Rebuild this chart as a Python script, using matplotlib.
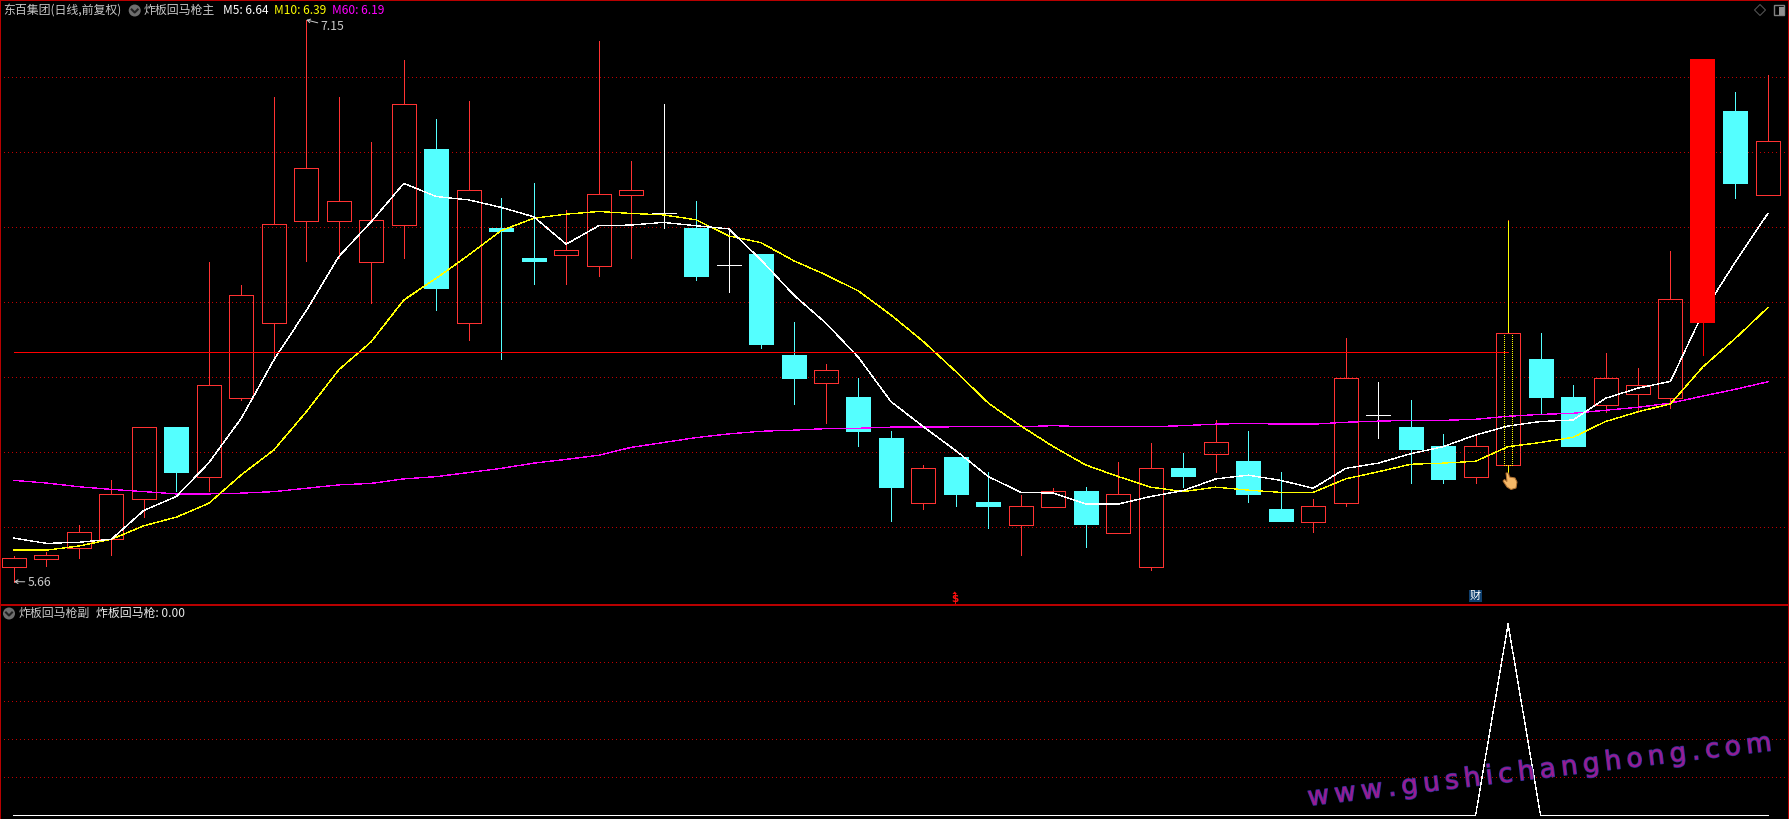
import numpy as np
import matplotlib
matplotlib.use("Agg")
import matplotlib.pyplot as plt
import matplotlib.patheffects as pe
from matplotlib.patches import Rectangle, Ellipse, Polygon, FancyBboxPatch

plt.rcParams['font.family'] = ['Noto Sans CJK SC', 'DejaVu Sans']

# === Data ===

opens = [5.695, 5.716, 5.746, 5.768, 5.876, 6.068, 5.935, 6.146, 6.346, 6.618, 6.618,
         6.508, 6.607, 6.809, 6.346, 6.598, 6.518, 6.527, 6.498, 6.687, 6.637, 6.598,
         6.499, 6.529, 6.260, 6.186, 6.148, 6.038, 5.866, 5.988, 5.868, 5.807, 5.855,
         5.897, 5.786, 5.695, 5.958, 5.996, 5.977, 5.849, 5.815, 5.866, 6.099, 6.068,
         6.017, 5.935, 5.967, 6.249, 6.148, 6.127, 6.156, 6.146, 6.345, 6.910, 6.687]
closes = [5.717, 5.725, 5.787, 5.888, 6.067, 5.948, 6.179, 6.419, 6.608, 6.757, 6.669,
          6.619, 6.928, 6.439, 6.699, 6.590, 6.510, 6.539, 6.688, 6.699, 6.637, 6.470,
          6.499, 6.289, 6.198, 6.219, 6.057, 5.908, 5.957, 5.889, 5.857, 5.856, 5.896,
          5.809, 5.888, 5.957, 5.937, 6.027, 5.890, 5.817, 5.856, 6.197, 6.099, 6.009,
          5.929, 6.016, 6.317, 6.148, 6.017, 6.197, 6.179, 6.409, 7.049, 6.718, 6.829]
highs = [5.724, 5.733, 5.805, 5.926, 6.067, 6.068, 6.508, 6.446, 6.948, 7.153, 6.948,
         6.828, 7.046, 6.889, 6.937, 6.678, 6.718, 6.646, 7.097, 6.777, 6.929, 6.670,
         6.593, 6.529, 6.348, 6.236, 6.198, 6.057, 5.966, 5.988, 5.947, 5.886, 5.905,
         5.908, 5.973, 6.024, 5.997, 6.086, 6.057, 5.948, 5.876, 6.306, 6.188, 6.140,
         6.049, 6.046, 6.620, 6.318, 6.180, 6.265, 6.225, 6.537, 7.049, 6.961, 7.006]
lows = [5.655, 5.698, 5.719, 5.726, 5.828, 5.897, 5.897, 6.140, 6.248, 6.511, 6.519,
        6.399, 6.519, 6.380, 6.300, 6.249, 6.449, 6.449, 6.471, 6.519, 6.599, 6.460,
        6.428, 6.279, 6.130, 6.079, 6.018, 5.818, 5.849, 5.858, 5.799, 5.726, 5.855,
        5.748, 5.786, 5.687, 5.908, 5.948, 5.868, 5.817, 5.788, 5.858, 6.039, 5.919,
        5.919, 5.919, 5.944, 6.102, 6.017, 6.108, 6.108, 6.119, 6.260, 6.678, 6.687]

ma5 = [5.771, 5.757, 5.760, 5.768, 5.845, 5.882, 5.972, 6.091, 6.246, 6.378, 6.522,
       6.615, 6.717, 6.682, 6.673, 6.653, 6.628, 6.555, 6.604, 6.606, 6.613, 6.604,
       6.596, 6.513, 6.420, 6.344, 6.253, 6.135, 6.068, 6.004, 5.935, 5.893, 5.891,
       5.862, 5.862, 5.882, 5.898, 5.929, 5.939, 5.925, 5.904, 5.957, 5.971, 5.996,
       6.015, 6.046, 6.070, 6.082, 6.086, 6.144, 6.171, 6.189, 6.372, 6.508, 6.637]
ma10 = [5.739, 5.739, 5.750, 5.768, 5.804, 5.827, 5.864, 5.940, 6.006, 6.108, 6.220,
        6.295, 6.406, 6.464, 6.526, 6.591, 6.624, 6.635, 6.642, 6.637, 6.633, 6.620,
        6.577, 6.559, 6.511, 6.473, 6.430, 6.366, 6.295, 6.215, 6.131, 6.070, 6.015,
        5.966, 5.935, 5.907, 5.895, 5.907, 5.899, 5.893, 5.893, 5.929, 5.948, 5.968,
        5.971, 5.976, 6.015, 6.026, 6.040, 6.082, 6.108, 6.129, 6.228, 6.304, 6.386]
ma60 = [5.925, 5.918, 5.908, 5.901, 5.895, 5.889, 5.889, 5.891, 5.895, 5.904, 5.913,
        5.917, 5.929, 5.935, 5.946, 5.957, 5.971, 5.981, 5.992, 6.013, 6.026, 6.039,
        6.049, 6.056, 6.059, 6.063, 6.064, 6.067, 6.067, 6.068, 6.068, 6.068, 6.071,
        6.068, 6.068, 6.068, 6.071, 6.075, 6.077, 6.075, 6.075, 6.080, 6.083, 6.085,
        6.085, 6.088, 6.096, 6.101, 6.104, 6.112, 6.120, 6.131, 6.150, 6.168, 6.188]

signal = [0] * 55
signal[46] = 1

limit_up_bar = 52
marked_bar = 46
level_price = 6.267
main_grid = [5.8, 6.0, 6.2, 6.4, 6.6, 6.8, 7.0]
sub_grid = [0.2, 0.4, 0.6, 0.8]

# === Layout ===

W, H = 1789, 819
SPLIT = 604.5
RED_UP = "#FF3232"
CYAN = "#54FFFF"
FRAME = "#B80000"
GRID = "#C00000"
TEXT = "#C8C8C8"
PX = 0.72  # one pixel in points at dpi 100
THIN = 0.22  # aliased sloped lines stay one pixel wide with this

fig = plt.figure(figsize=(W / 100, H / 100), dpi=100, facecolor="black")
ax = fig.add_axes([0, 1 - SPLIT / H, 1, SPLIT / H], facecolor="black")
sub = fig.add_axes([0, 0, 1, 1 - SPLIT / H], facecolor="black")

x = np.arange(len(opens))
xlim = (-14.0 / 32.48, (W - 14.0) / 32.48)
for a in (ax, sub):
    a.set_xlim(xlim)
    a.set_xticks([])
    a.tick_params(left=False, labelleft=False)
    for side in a.spines:
        a.spines[side].set_color(FRAME)
        a.spines[side].set_linewidth(2 * PX)
    a.spines["bottom"].set_visible(False)
    a.set_axisbelow(True)

ax.set_ylim(5.594, 7.2061)
sub.set_ylim(-0.0193, 1.102)
ax.set_yticks(main_grid)
sub.set_yticks(sub_grid)
ax.grid(True, axis="y", color=GRID, linewidth=PX, linestyle=(0, (1, 3)), antialiased=False)
sub.grid(True, axis="y", color=GRID, linewidth=PX, linestyle=(0, (1, 3)), antialiased=False)

# === Candles ===

body_w = 0.74
for i in x:
    o, c, h, l = opens[i], closes[i], highs[i], lows[i]
    top, bottom = max(o, c), min(o, c)
    color = RED_UP if c > o else (CYAN if c < o else "white")
    if i == limit_up_bar:
        continue
    if i == marked_bar:
        ax.vlines(i, top, h, color="#FF5000", linewidth=PX, antialiased=False, zorder=2)
        ax.vlines(i, l, bottom, color="#FF5000", linewidth=PX, antialiased=False, zorder=2)
        ax.plot([i, i], [top, h], color="yellow", lw=PX, ls=(0, (1, 1)), antialiased=False, zorder=2)
        ax.plot([i, i], [l, bottom], color="yellow", lw=PX, ls=(0, (1, 1)), antialiased=False, zorder=2)
    else:
        ax.vlines(i, top, h, color=color, linewidth=PX, antialiased=False, zorder=2)
        ax.vlines(i, l, bottom, color=color, linewidth=PX, antialiased=False, zorder=2)
    if c > o:
        ax.add_patch(Rectangle((i - body_w / 2, bottom), body_w, top - bottom, facecolor="none",
                               edgecolor=RED_UP, linewidth=PX, antialiased=False, zorder=2))
    elif c < o:
        ax.add_patch(Rectangle((i - body_w / 2, bottom), body_w, top - bottom, facecolor=CYAN,
                               edgecolor=CYAN, linewidth=PX, antialiased=False, zorder=2))
    else:
        ax.hlines(o, i - body_w / 2, i + body_w / 2, color="white", linewidth=PX, antialiased=False, zorder=2)

# dotted yellow inner frame of the marked candle
inner = 0.127
m_top, m_bottom = closes[marked_bar], opens[marked_bar]
for dx in (-inner, inner):
    ax.plot([marked_bar + dx] * 2, [m_bottom, m_top], color="yellow", lw=PX, ls=(0, (1, 2)),
            antialiased=False, zorder=4)
ax.plot([marked_bar - inner, marked_bar + inner], [m_bottom, m_bottom], color="yellow", lw=PX,
        ls=(0, (1, 2)), antialiased=False, zorder=4)

# === Lines ===

ax.plot(x, ma60, color="#FF00FF", linewidth=THIN, antialiased=False, zorder=3)
ax.plot(x, ma10, color="#FFFF00", linewidth=THIN, antialiased=False, zorder=3)
ax.plot(x, ma5, color="white", linewidth=THIN, antialiased=False, zorder=3)
ax.hlines(level_price, 0, marked_bar, color="#FF0000", linewidth=PX, antialiased=False, zorder=3)

# the limit-up bar sits over the averages and the grid
lb = limit_up_bar
ax.vlines(lb, lows[lb], opens[lb], color="#FF0000", linewidth=PX, antialiased=False, zorder=5)
ax.add_patch(Rectangle((lb - 0.385, opens[lb]), 0.77, closes[lb] - opens[lb], facecolor="#FF0000",
                       edgecolor="none", antialiased=False, zorder=5))

sub.plot(x, signal, color="white", linewidth=THIN, antialiased=False, zorder=3)

# === High / low marks ===

hi = int(np.argmax(highs))
lo = int(np.argmin(lows))
arrow = dict(arrowstyle="->,head_length=0.25,head_width=0.15", color=TEXT, lw=PX, shrinkA=0, shrinkB=0)
ax.annotate(f"{highs[hi]:.2f}", xy=(hi, highs[hi]), xytext=(320.5 / W, 1 - 26.5 / H),
            textcoords="figure fraction", color=TEXT, fontsize=8.8, va="center", ha="left", zorder=6,
            arrowprops=arrow)
ax.annotate(f"{lows[lo]:.2f}", xy=(lo, lows[lo]), xytext=(27.5 / W, 1 - 582 / H),
            textcoords="figure fraction", color=TEXT, fontsize=8.8, va="center", ha="left", zorder=6,
            arrowprops=arrow)

# === Header texts, pixel positions ===

def put(px, py, s, color=TEXT, size=8.6, **kw):
    return fig.text(px / W, 1 - py / H, s, color=color, fontsize=size, va="center", ha="left", **kw)

def chevron(px, py):
    fig.add_artist(Ellipse((px / W, 1 - py / H), 12 / W, 12 / H, transform=fig.transFigure,
                           facecolor="#6E6E6E", edgecolor="none"))
    fig.add_artist(plt.Line2D([(px - 3) / W, px / W, (px + 3) / W],
                              [1 - (py - 1) / H, 1 - (py + 2) / H, 1 - (py - 1) / H],
                              transform=fig.transFigure, color="#202020", linewidth=1.5))

put(3, 10, "东百集团(日线,前复权)")
chevron(134.7, 10.5)
put(144, 10, "炸板回马枪主")
put(223, 10, f"M5: {ma5[-1]:.2f}", color="white")
put(274, 10, f"M10: {ma10[-1]:.2f}", color="#FFFF00")
put(332, 10, f"M60: {ma60[-1]:.2f}", color="#FF00FF")

chevron(9, 613.5)
put(18.5, 613, "炸板回马枪副")
put(96, 613, f"炸板回马枪: {signal[-1]:.2f}", color="#E8E8E8")

# window icons
fig.add_artist(Polygon([(1760 / W, 1 - 4.5 / H), (1765.5 / W, 1 - 10 / H), (1760 / W, 1 - 15.5 / H),
                        (1754.5 / W, 1 - 10 / H)], closed=True, transform=fig.transFigure,
                       facecolor="none", edgecolor="#585858", linewidth=PX))
fig.add_artist(FancyBboxPatch((1774.5 / W, 1 - 15.5 / H), 10 / W, 10 / H, boxstyle="round,pad=0",
                              transform=fig.transFigure, facecolor="none", edgecolor="#808080", linewidth=1))
fig.add_artist(Rectangle((1779 / W, 1 - 14.5 / H), 4.5 / W, 8 / H, transform=fig.transFigure,
                         facecolor="#909090", edgecolor="none"))

# event marks above the panel split
fig.add_artist(Polygon([(952.5 / W, 1 - 594 / H), (957 / W, 1 - 594 / H), (954.7 / W, 1 - 591.5 / H)],
                       closed=True, transform=fig.transFigure, facecolor="#FF1010", edgecolor="none"))
fig.text(954.8 / W, 1 - 598.5 / H, r"\$", color="#FF1010", fontsize=7.5, fontweight="bold",
         ha="center", va="center", family=["DejaVu Sans"])
fig.text(1475.3 / W, 1 - 596 / H, "财", color="white", fontsize=8, ha="center", va="center",
         bbox=dict(boxstyle="square,pad=0.08", facecolor="#0E3F6E", edgecolor="none"))

# hand cursor at the marked candle
hand = [(1506, 473), (1508.5, 473), (1509.5, 477), (1515, 478), (1517, 482), (1516, 488), (1511, 489.5),
        (1507, 487), (1503, 481), (1504.5, 479.5), (1507, 481.5)]
fig.add_artist(Polygon([(a / W, 1 - b / H) for a, b in hand], closed=True, transform=fig.transFigure,
                       facecolor="#F5B868", edgecolor="#B07030", linewidth=PX))

# === Watermark ===

wm = fig.text(1540 / W, 1 - 771 / H, "\u2009".join("www.gushichanghong.com"), color="#9A1C90",
              fontsize=19, rotation=6.8, rotation_mode="anchor", ha="center",
              va="center", family=["DejaVu Sans"], zorder=10)
wm.set_path_effects([pe.withStroke(linewidth=1.1, foreground="#30309A")])

fig.savefig("out.png", dpi=100, facecolor="black")
